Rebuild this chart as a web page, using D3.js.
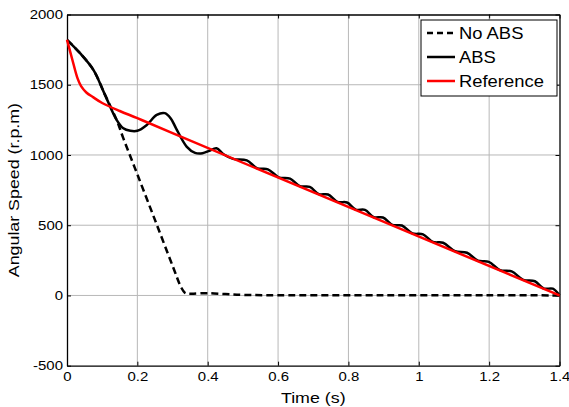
<!DOCTYPE html>
<html>
<head>
<meta charset="utf-8">
<script src="https://cdn.jsdelivr.net/npm/d3@7"></script>
<style>
  body { margin: 0; background: #fff; }
  text { font-family: "Liberation Sans", Arial, sans-serif; fill: #000; }
</style>
</head>
<body>
<svg id="chart" width="569" height="407"></svg>
<script>
const width = 569;
const height = 407;
// text in the source image is stretched horizontally
const stretch = 1.15;

const xTicks = [0, 0.2, 0.4, 0.6, 0.8, 1, 1.2, 1.4];
const yTicks = [-500, 0, 500, 1000, 1500, 2000];

// No ABS (dashed black)
const noAbs = [
    [0, 1820], [0.037, 1725], [0.075, 1606], [0.108, 1428], [0.141, 1250],
    [0.16, 1120], [0.2, 862], [0.25, 538], [0.3, 212], [0.325, 55],
    [0.335, 20], [0.345, 12], [0.36, 13], [0.4, 16], [0.45, 10],
    [0.5, 4], [0.6, 2], [0.9, 2], [1.2, 2], [1.4, 0]
];

// ABS (solid black)
const abs = [
    [0, 1820], [0.037, 1725], [0.075, 1606], [0.108, 1428], [0.141, 1250],
    [0.16, 1190], [0.18, 1172], [0.2, 1172], [0.226, 1212], [0.255, 1285],
    [0.278, 1298], [0.295, 1260], [0.31, 1190], [0.34, 1060], [0.364, 1015],
    [0.385, 1012], [0.405, 1030], [0.425, 1048], [0.445, 1005], [0.472, 972],
    [0.511, 961], [0.541, 905], [0.571, 898], [0.602, 841], [0.634, 832],
    [0.662, 778], [0.69, 773], [0.716, 721], [0.742, 719], [0.769, 666],
    [0.796, 662], [0.821, 611], [0.847, 609], [0.872, 557], [0.898, 555],
    [0.925, 502], [0.952, 498], [0.982, 442], [1.012, 435], [1.04, 381],
    [1.069, 375], [1.103, 315], [1.137, 304], [1.168, 247], [1.199, 239],
    [1.231, 180], [1.264, 171], [1.297, 111], [1.33, 101], [1.356, 49],
    [1.381, 48], [1.4, 0]
];

// Reference (red)
const reference = [
    [0, 1820], [0.015, 1680], [0.03, 1545], [0.04, 1490], [0.055, 1445],
    [0.075, 1410], [0.1, 1370], [0.15, 1313], [0.2, 1262], [0.3, 1155],
    [1.4, 0]
];

const legendItems = [
    { name: "No ABS", color: "#000", dash: "6,4" },
    { name: "ABS", color: "#000", dash: null },
    { name: "Reference", color: "#ff0000", dash: null }
];

const svg = d3.select("#chart");

const x = d3.scaleLinear().domain([0, 1.4]).range([67, 559.5]);
const y = d3.scaleLinear().domain([-500, 2000]).range([365.7, 14.5]);

function stretchText(sel) {
    sel.each(function () {
        const t = d3.select(this);
        const tx = +t.attr("x") || 0;
        const ty = +t.attr("y") || 0;
        t.attr("x", 0).attr("y", 0)
            .attr("transform", `translate(${tx},${ty}) scale(${stretch},1)`);
    });
}

// grid
svg.append("g")
    .selectAll("line")
    .data(xTicks.slice(1, -1))
    .join("line")
    .attr("x1", d => x(d)).attr("x2", d => x(d))
    .attr("y1", y(-500)).attr("y2", y(2000))
    .attr("stroke", "#b8b8b8").attr("stroke-width", 1);

svg.append("g")
    .selectAll("line")
    .data(yTicks.slice(1, -1))
    .join("line")
    .attr("x1", x(0)).attr("x2", x(1.4))
    .attr("y1", d => y(d)).attr("y2", d => y(d))
    .attr("stroke", "#b8b8b8").attr("stroke-width", 1);

// axes
const bottom = svg.append("g")
    .attr("transform", `translate(0,${y(-500)})`)
    .call(d3.axisBottom(x).tickValues(xTicks).tickFormat(d3.format("~g"))
        .tickSizeInner(-4).tickSizeOuter(0).tickPadding(6));

const left = svg.append("g")
    .attr("transform", `translate(${x(0)},0)`)
    .call(d3.axisLeft(y).tickValues(yTicks).tickFormat(d => d)
        .tickSizeInner(-4).tickSizeOuter(0).tickPadding(4));

svg.append("g")
    .attr("transform", `translate(0,${y(2000)})`)
    .call(d3.axisTop(x).tickValues(xTicks).tickFormat("")
        .tickSizeInner(-4).tickSizeOuter(0));

svg.append("g")
    .attr("transform", `translate(${x(1.4)},0)`)
    .call(d3.axisRight(y).tickValues(yTicks).tickFormat("")
        .tickSizeInner(-4).tickSizeOuter(0));

svg.selectAll(".domain").attr("stroke", "#000").attr("stroke-width", 1.3);
svg.selectAll(".tick line").attr("stroke", "#000");
svg.selectAll(".tick text")
    .attr("font-size", 13)
    .attr("font-family", "Liberation Sans, Arial, sans-serif")
    .attr("fill", "#000");
bottom.selectAll(".tick text").call(stretchText);
left.selectAll(".tick text").call(stretchText);

// series
const line = d3.line()
    .x(d => x(d[0]))
    .y(d => y(d[1]))
    .curve(d3.curveCatmullRom.alpha(0.5));

svg.append("path")
    .datum(noAbs)
    .attr("d", line)
    .attr("fill", "none")
    .attr("stroke", "#000")
    .attr("stroke-width", 2.5)
    .attr("stroke-dasharray", "7,4");

svg.append("path")
    .datum(abs)
    .attr("d", line)
    .attr("fill", "none")
    .attr("stroke", "#000")
    .attr("stroke-width", 2.5);

svg.append("path")
    .datum(reference)
    .attr("d", line)
    .attr("fill", "none")
    .attr("stroke", "#ff0000")
    .attr("stroke-width", 2.5);

// axis labels
svg.append("text")
    .attr("x", (x(0) + x(1.4)) / 2)
    .attr("y", 403)
    .attr("text-anchor", "middle")
    .attr("font-size", 15.5)
    .text("Time (s)")
    .call(stretchText);

svg.append("text")
    .attr("transform", `translate(19,${(y(-500) + y(2000)) / 2}) rotate(-90) scale(${stretch},1)`)
    .attr("text-anchor", "middle")
    .attr("font-size", 15.5)
    .text("Angular Speed (r.p.m)");

// legend
const legend = svg.append("g");
legend.append("rect")
    .attr("x", 421).attr("y", 20)
    .attr("width", 136).attr("height", 76)
    .attr("fill", "#fff").attr("stroke", "#000").attr("stroke-width", 1);

legendItems.forEach(function (item, i) {
    const cy = 33 + i * 24;
    legend.append("line")
        .attr("x1", 427).attr("x2", 455)
        .attr("y1", cy).attr("y2", cy)
        .attr("stroke", item.color)
        .attr("stroke-width", 2.5)
        .attr("stroke-dasharray", item.dash);
    legend.append("text")
        .attr("x", 459).attr("y", cy)
        .attr("dy", "0.35em")
        .attr("font-size", 16)
        .text(item.name)
        .call(stretchText);
});
</script>
</body>
</html>
